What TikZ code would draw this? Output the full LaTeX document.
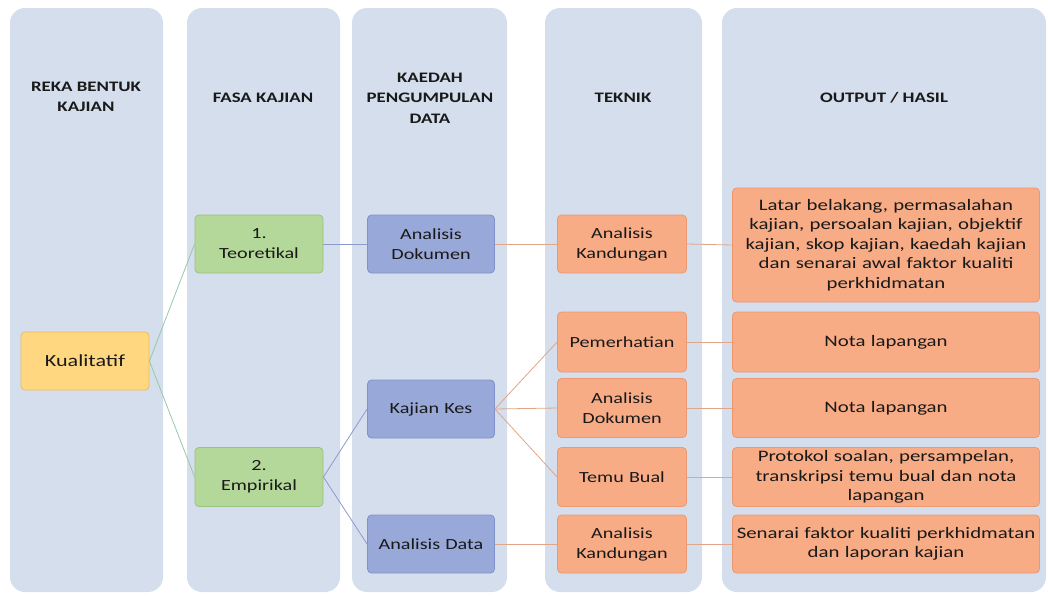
\documentclass[tikz,border=0pt]{standalone}
\usepackage{fontspec}
\setmainfont{Carlito}[FakeStretch=1.3]
\definecolor{panelc}{RGB}{213,222,237}
\definecolor{yelf}{RGB}{255,215,128}
\definecolor{yeld}{RGB}{235,190,95}
\definecolor{grnf}{RGB}{180,216,154}
\definecolor{grnd}{RGB}{150,196,125}
\definecolor{bluf}{RGB}{152,168,216}
\definecolor{blud}{RGB}{128,146,204}
\definecolor{orgf}{RGB}{248,172,134}
\definecolor{orgd}{RGB}{236,152,112}
\definecolor{lgrn}{RGB}{150,200,165}
\definecolor{lblu}{RGB}{140,155,205}
\definecolor{lorg}{RGB}{225,165,135}
\definecolor{txt}{RGB}{25,25,25}
\tikzset{
  panel/.style={fill=panelc, draw=none, rounded corners=15pt},
  hdr/.style={font=\bfseries\fontsize{14.5}{20.5}\selectfont, text=txt, align=center, inner sep=0pt},
  box/.style={rounded corners=4pt, line width=0.8pt, align=center, inner xsep=4pt, inner ysep=0pt,
    font=\fontsize{15.5}{20}\selectfont, text=txt},
  yelbox/.style={box, fill=yelf, draw=yeld},
  grnbox/.style={box, fill=grnf, draw=grnd},
  blubox/.style={box, fill=bluf, draw=blud},
  orgbox/.style={box, fill=orgf, draw=orgd},
  outbox/.style={orgbox, inner xsep=1pt, text width=305pt, font=\fontsize{16}{19.5}\selectfont},
  lk/.style={line width=0.8pt}
}
\begin{document}
\begin{tikzpicture}[x=1pt,y=-1pt]
\useasboundingbox (0,0) rectangle (1048,595);
% panels
\fill[panel] (10,8) rectangle (163,592);
\fill[panel] (187,8) rectangle (340,592);
\fill[panel] (352,8) rectangle (507,592);
\fill[panel] (545,8) rectangle (702,592);
\fill[panel] (722,8) rectangle (1046,592);
% headers
\node[hdr] (h1) at (86,97) {REKA BENTUK\\KAJIAN};
\node[hdr] (h2) at (263,98) {FASA KAJIAN};
\node[hdr] (h3) at (430,98) {KAEDAH\\PENGUMPULAN\\DATA};
\node[hdr] (h4) at (623,98) {TEKNIK};
\node[hdr] (h5) at (884,98) {OUTPUT / HASIL};
% column 1
\node[yelbox, text width=120pt, minimum height=58pt, font=\fontsize{17}{20}\selectfont] (kual) at (85,361) {Kualitatif};
% column 2
\node[grnbox, text width=120pt, minimum height=58pt] (teo) at (259,244) {1.\\Teoretikal};
\node[grnbox, text width=120pt, minimum height=59pt] (emp) at (259,477) {2.\\Empirikal};
% column 3
\node[blubox, text width=119pt, minimum height=58pt] (ad) at (431,244) {Analisis\\Dokumen};
\node[blubox, text width=119pt, minimum height=58pt] (kk) at (431,409) {Kajian Kes};
\node[blubox, text width=119pt, minimum height=58pt] (adata) at (431,544) {Analisis Data};
% column 4
\node[orgbox, text width=121pt, minimum height=58pt] (t1) at (622,244) {Analisis\\Kandungan};
\node[orgbox, text width=121pt, minimum height=60pt] (t2) at (622,342) {Pemerhatian};
\node[orgbox, text width=121pt, minimum height=59pt] (t3) at (622,408) {Analisis\\Dokumen};
\node[orgbox, text width=121pt, minimum height=59pt] (t4) at (622,477) {Temu Bual};
\node[orgbox, text width=121pt, minimum height=58pt] (t5) at (622,544) {Analisis\\Kandungan};
% column 5
\node[outbox, minimum height=114pt] (o1) at (886,245) {Latar belakang, permasalahan\\kajian, persoalan kajian, objektif\\kajian, skop kajian, kaedah kajian\\dan senarai awal faktor kualiti\\perkhidmatan};
\node[outbox, minimum height=60pt] (o2) at (886,342) {Nota lapangan};
\node[outbox, minimum height=59pt] (o3) at (886,408) {Nota lapangan};
\node[outbox, minimum height=59pt] (o4) at (886,477) {Protokol soalan, persampelan,\\transkripsi temu bual dan nota\\lapangan};
\node[outbox, minimum height=58pt] (o5) at (886,544) {Senarai faktor kualiti perkhidmatan\\dan laporan kajian};
% connectors
\draw[lk, lgrn] (kual.east) -- (teo.west);
\draw[lk, lgrn] (kual.east) -- (emp.west);
\draw[lk, lblu] (teo.east) -- (ad.west);
\draw[lk, lblu] (emp.east) -- (kk.west);
\draw[lk, lblu] (emp.east) -- (adata.west);
\draw[lk, lorg] (ad.east) -- (t1.west);
\draw[lk, lorg] (kk.east) -- (t2.west);
\draw[lk, lorg] (kk.east) -- (t3.west);
\draw[lk, lorg] (kk.east) -- (t4.west);
\draw[lk, lorg] (adata.east) -- (t5.west);
\draw[lk, lorg] (t1.east) -- (o1.west);
\draw[lk, lorg] (t2.east) -- (o2.west);
\draw[lk, lorg] (t3.east) -- (o3.west);
\draw[lk, lorg] (t4.east) -- (o4.west);
\draw[lk, lorg] (t5.east) -- (o5.west);
\end{tikzpicture}
\end{document}
